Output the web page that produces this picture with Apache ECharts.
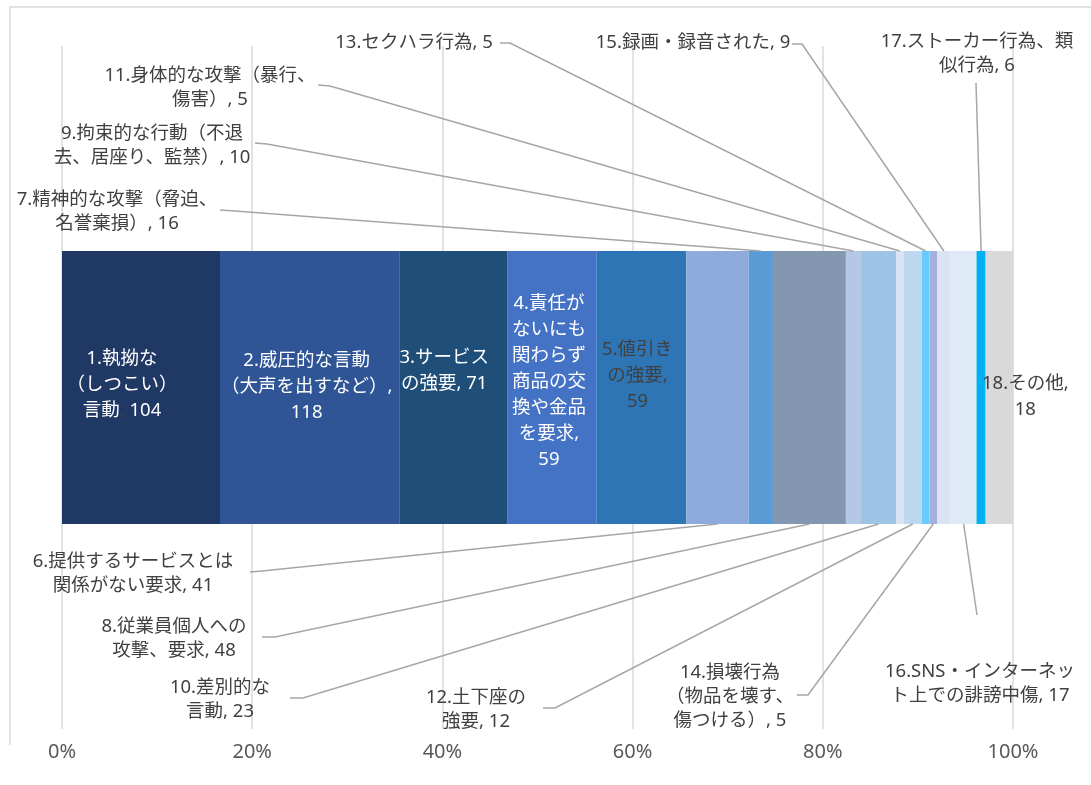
<!DOCTYPE html>
<html>
<head>
<meta charset="utf-8">
<title>カスタマーハラスメントの内容</title>
<script src="https://cdn.jsdelivr.net/npm/echarts@6/dist/echarts.min.js"></script>
<style>
  html, body { margin: 0; padding: 0; background: #fff; }
  #chart { width: 1091px; height: 785px; }
</style>
</head>
<body>
<div id="chart"></div>
<script>
// 項目名
const itemNames = [
  "1.執拗な（しつこい）言動",
  "2.威圧的な言動（大声を出すなど）",
  "3.サービスの強要",
  "4.責任がないにも関わらず商品の交換や金品を要求",
  "5.値引きの強要",
  "6.提供するサービスとは関係がない要求",
  "7.精神的な攻撃（脅迫、名誉棄損）",
  "8.従業員個人への攻撃、要求",
  "9.拘束的な行動（不退去、居座り、監禁）",
  "10.差別的な言動",
  "11.身体的な攻撃（暴行、傷害）",
  "12.土下座の強要",
  "13.セクハラ行為",
  "14.損壊行為（物品を壊す、傷つける）",
  "15.録画・録音された",
  "16.SNS・インターネット上での誹謗中傷",
  "17.ストーカー行為、類似行為",
  "18.その他"
];
// 件数
const itemCounts = [104, 118, 71, 59, 59, 41, 16, 48, 10, 23, 5, 12, 5, 5, 9, 17, 6, 18];
// ラベル表示（改行付き、{v} に件数）
const labelTexts = [
  "1.執拗な\n（しつこい）\n言動{c|,} {v}",
  "2.威圧的な言動\n（大声を出すなど）,\n{v}",
  "3.サービス\nの強要, {v}",
  "4.責任が\nないにも\n関わらず\n商品の交\n換や金品\nを要求,\n{v}",
  "5.値引き\nの強要,\n{v}",
  "6.提供するサービスとは\n関係がない要求, {v}",
  "7.精神的な攻撃（脅迫、\n名誉棄損）, {v}",
  "8.従業員個人への\n攻撃、要求, {v}",
  "9.拘束的な行動（不退\n去、居座り、監禁）, {v}",
  "10.差別的な\n言動, {v}",
  "11.身体的な攻撃（暴行、\n傷害）, {v}",
  "12.土下座の\n強要, {v}",
  "13.セクハラ行為, {v}",
  "14.損壊行為\n（物品を壊す、\n傷つける）, {v}",
  "15.録画・録音された, {v}",
  "16.SNS・インターネッ\nト上での誹謗中傷, {v}",
  "17.ストーカー行為、類\n似行為, {v}",
  "18.その他,\n{v}"
];
// x軸目盛 (%)
const xTicks = [0, 20, 40, 60, 80, 100];

// 色
const colors = [
  "#203864", "#2F5597", "#1F4E79", "#4472C4", "#2E75B6", "#8FAADC",
  "#5B9BD5", "#8497B0", "#B4C7E7", "#9DC3E6", "#DAE3F3", "#BDD7EE",
  "#66CCFF", "#A4B0DA", "#DAE3F3", "#DEEBF7", "#00B0F0", "#D9D9D9"
];
const FONT = '"Noto Sans", "Noto Sans CJK JP", sans-serif';
const FS = 18.5;
const BAR_W = 273;

// 棒の中に表示するラベル（index: [色, offset]）
const insideLabels = {
  0: { color: "#fff", offset: [-19, -3] },
  1: { color: "#fff", offset: [-3, -1] },
  2: { color: "#fff", offset: [-9, -17] },
  3: { color: "#fff", offset: [-3, -6] },
  4: { color: "#404040", offset: [-4, -12] },
  17: { color: "#404040", offset: [26, 9] }
};
// 外側ラベルの位置と引き出し線（ラベル側の点）
const callouts = {
  6: { pos: [117, 212], from: [[220, 210], [235, 211]], side: "top" },
  8: { pos: [152, 146], from: [[255, 143], [267, 144]], side: "top" },
  10: { pos: [210, 88], from: [[318, 85], [330, 86]], side: "top" },
  12: { pos: [414, 43], from: [[500, 43], [510, 43]], side: "top" },
  14: { pos: [693, 43], from: [[792, 44], [802, 44]], side: "top" },
  16: { pos: [977, 54], from: [[976, 83]], side: "top" },
  5: { pos: [133, 574], from: [[250, 572], [262, 571]], side: "bottom" },
  7: { pos: [174, 639], from: [[262, 637], [275, 637]], side: "bottom" },
  9: { pos: [220, 700], from: [[290, 698], [303, 698]], side: "bottom" },
  11: { pos: [476, 710], from: [[543, 708], [555, 708]], side: "bottom" },
  13: { pos: [730, 697], from: [[797, 695], [808, 695]], side: "bottom" },
  15: { pos: [980, 684], from: [[977, 615]], side: "bottom" }
};

const total = itemCounts.reduce((a, b) => a + b, 0);
const percents = itemCounts.map(v => v / total * 100);
const textOf = i => labelTexts[i].replace("{v}", itemCounts[i]);

let chart = echarts.init(document.getElementById("chart"));

let series = itemNames.map((name, i) => {
  let inside = insideLabels[i];
  return {
    type: "bar",
    name: name,
    stack: "total",
    barWidth: BAR_W,
    data: [percents[i]],
    itemStyle: { color: colors[i] },
    label: inside ? {
      show: true,
      position: "inside",
      offset: inside.offset,
      color: inside.color,
      fontSize: FS,
      fontFamily: FONT,
      lineHeight: 26,
      align: "center",
      formatter: () => textOf(i),
      rich: { c: { color: "#404040", fontSize: FS, fontFamily: FONT, lineHeight: 26 } }
    } : { show: false }
  };
});

chart.setOption({
  animation: false,
  backgroundColor: "#fff",
  grid: { left: 62, right: 78, top: 46, bottom: 56 },
  xAxis: {
    type: "value",
    min: xTicks[0],
    max: xTicks[xTicks.length - 1],
    interval: xTicks[1] - xTicks[0],
    axisLine: { show: false },
    axisTick: { show: false },
    splitLine: { lineStyle: { color: "#D9D9D9", width: 1.5 } },
    axisLabel: {
      formatter: "{value}%",
      color: "#595959",
      fontSize: 20,
      fontFamily: FONT,
      margin: 13
    }
  },
  yAxis: { type: "category", data: [""], show: false },
  series: series
});

// 引き出し線と外側ラベル
let cum = [];
percents.reduce((acc, p, i) => { cum[i] = acc + p / 2; return acc + p; }, 0);

let graphics = [{
  type: "polyline",
  shape: { points: [[10, 745], [10, 7], [1091, 7]] },
  style: { stroke: "#D9D9D9", lineWidth: 1.5, fill: null },
  silent: true
}];
Object.keys(callouts).forEach(k => {
  let i = +k;
  let c = callouts[i];
  let p = chart.convertToPixel({ gridIndex: 0 }, [cum[i], 0]);
  let edgeY = c.side === "top" ? p[1] - BAR_W / 2 : p[1] + BAR_W / 2;
  graphics.push({
    type: "polyline",
    shape: { points: c.from.concat([[p[0], edgeY]]) },
    style: { stroke: "#A6A6A6", lineWidth: 1.5, fill: null },
    silent: true,
    z: 10
  });
  graphics.push({
    type: "text",
    x: c.pos[0],
    y: c.pos[1],
    style: {
      text: textOf(i),
      fill: "#404040",
      fontSize: FS,
      fontFamily: FONT,
      lineHeight: 24,
      align: "center",
      verticalAlign: "middle"
    },
    silent: true,
    z: 10
  });
});
chart.setOption({ graphic: graphics });
</script>
</body>
</html>
